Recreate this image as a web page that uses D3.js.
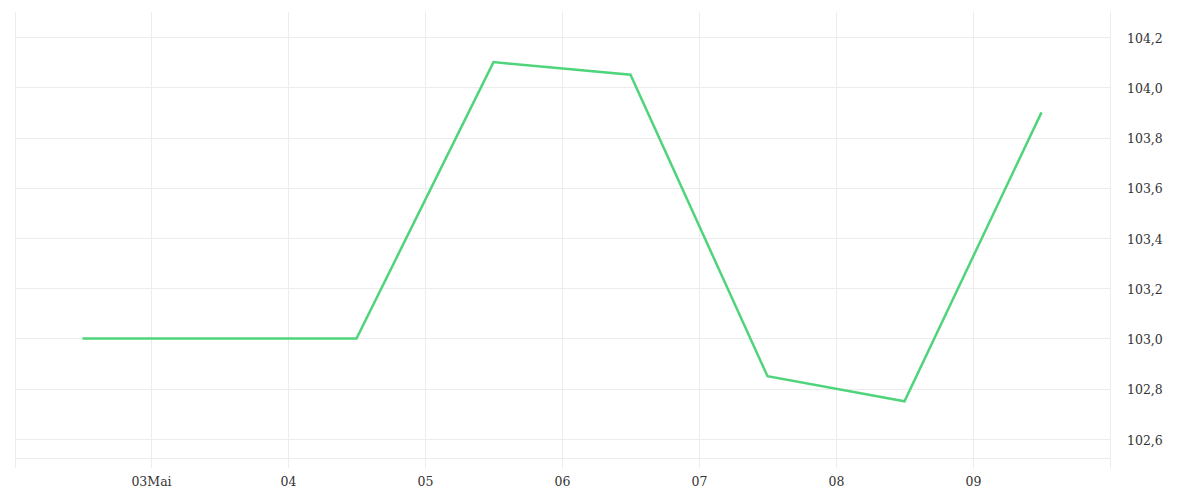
<!DOCTYPE html>
<html><head><meta charset="utf-8">
<script src="https://cdn.jsdelivr.net/npm/d3@7"></script>
<style>
body{margin:0;background:#fff;}
svg{display:block;}
</style></head>
<body><svg id="c" width="1200" height="500"></svg>
<script>
// Data: day of May (noon points) and values
const days = [2.5, 3.5, 4.5, 5.5, 6.5, 7.5, 8.5, 9.5];
const values = [103.0, 103.0, 103.0, 104.1, 104.05, 102.85, 102.75, 103.9];
const xTickDays = [3, 4, 5, 6, 7, 8, 9];
const xTickLabels = ["03Mai", "04", "05", "06", "07", "08", "09"];
const yTicks = [102.6, 102.8, 103.0, 103.2, 103.4, 103.6, 103.8, 104.0, 104.2];

(function(){
const svg = d3.select("#c");
const x = d3.scaleLinear().domain([2, 10]).range([14, 1110]);
const y = d3.scaleLinear().domain([102.6, 104.2]).range([439, 37]);
const gTop = 12, gBottom = 468, hBottom = 458;
const grid = "#ececec";
const FONT = "'DejaVu Serif', serif";

// vertical grid lines
const vx = [x(2)+1].concat(xTickDays.map(d => x(d))).concat([x(10)]);
svg.append("g").selectAll("line").data(vx).join("line")
  .attr("x1", d => Math.round(d)+0.5).attr("x2", d => Math.round(d)+0.5)
  .attr("y1", gTop).attr("y2", gBottom)
  .attr("stroke", grid).attr("stroke-width", 1);

// horizontal grid lines
svg.append("g").selectAll("line").data(yTicks).join("line")
  .attr("x1", x(2)+1).attr("x2", x(10))
  .attr("y1", d => Math.round(y(d))+0.5).attr("y2", d => Math.round(y(d))+0.5)
  .attr("stroke", grid);
svg.append("line").attr("x1", x(2)+1).attr("x2", x(10))
  .attr("y1", hBottom+0.5).attr("y2", hBottom+0.5).attr("stroke", grid);

// right axis labels
const yAxis = d3.axisRight(y).tickValues(yTicks).tickSize(0).tickPadding(17)
  .tickFormat(d => d3.format(".1f")(d).replace(".", ","));
const ga = svg.append("g").attr("transform", `translate(${x(10)},0)`).call(yAxis);
ga.select(".domain").remove();
ga.selectAll("text").attr("fill", "#333")
  .style("font-family", FONT).style("font-size", "12.5px").attr("dy", "0.4em");

// bottom axis labels
const xAxis = d3.axisBottom(x).tickValues(xTickDays).tickSize(0).tickPadding(0)
  .tickFormat((d, i) => xTickLabels[i]);
const gx = svg.append("g").attr("transform", `translate(0,${hBottom+19})`).call(xAxis);
gx.select(".domain").remove();
gx.selectAll("text").attr("fill", "#333").attr("dy", "0.71em").attr("y", 0)
  .style("font-family", FONT).style("font-size", "12.5px");

// line
const line = d3.line().x((d, i) => x(days[i])).y(d => y(d));
svg.append("path").datum(values).attr("d", line)
  .attr("fill", "none").attr("stroke", "#4fd47c").attr("stroke-width", 2.5)
  .attr("stroke-linejoin", "miter");
})();
</script></body></html>
